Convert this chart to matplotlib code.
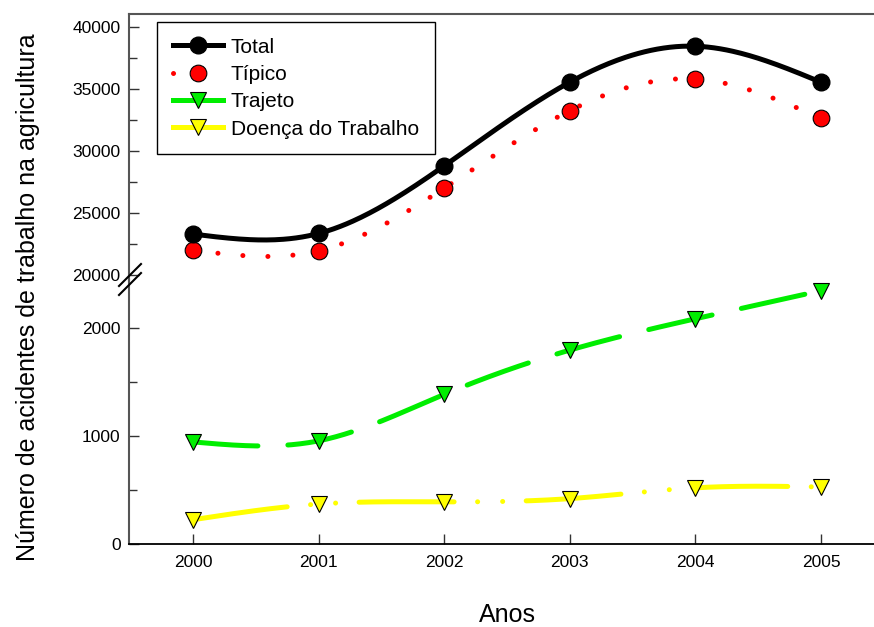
import numpy as np
import matplotlib
matplotlib.use('Agg')
import matplotlib.pyplot as plt
from matplotlib.ticker import MultipleLocator

plt.rcParams['font.family'] = ['Liberation Sans', 'DejaVu Sans']

# Values
years = [2000, 2001, 2002, 2003, 2004, 2005]
total = [23300, 23350, 28800, 35550, 38450, 35550]
tipico = [22000, 21950, 27000, 33250, 35800, 32650]
trajeto = [945, 955, 1385, 1795, 2085, 2345]
doenca = [225, 370, 390, 420, 520, 528]


def spline(x, y, n=300):
    # natural cubic spline through the points, like the original's smooth curves
    x = np.asarray(x, float)
    y = np.asarray(y, float)
    h = np.diff(x)
    k = len(x)
    A = np.zeros((k, k))
    b = np.zeros(k)
    A[0, 0] = A[-1, -1] = 1
    for i in range(1, k - 1):
        A[i, i - 1] = h[i - 1]
        A[i, i] = 2 * (h[i - 1] + h[i])
        A[i, i + 1] = h[i]
        b[i] = 6 * ((y[i + 1] - y[i]) / h[i] - (y[i] - y[i - 1]) / h[i - 1])
    M = np.linalg.solve(A, b)
    xs = np.linspace(x[0], x[-1], n)
    idx = np.clip(np.searchsorted(x, xs) - 1, 0, k - 2)
    x0, x1 = x[idx], x[idx + 1]
    hh = x1 - x0
    t0, t1 = x1 - xs, xs - x0
    ys = (M[idx] * t0**3 + M[idx + 1] * t1**3) / (6 * hh) \
        + (y[idx] / hh - M[idx] * hh / 6) * t0 \
        + (y[idx + 1] / hh - M[idx + 1] * hh / 6) * t1
    return xs, ys


fig = plt.figure(figsize=(8.74, 6.27), dpi=100)
left, width = 129 / 874, (885 - 129) / 874
ax_top = fig.add_axes([left, 1 - 280 / 627, width, (280 - 14) / 627])
ax_bot = fig.add_axes([left, 1 - 544 / 627, width, (544 - 280) / 627])

lw = 3.6
ms = 12

# Upper panel: Total and Típico
xs, ys = spline(years, tipico)
ax_top.plot(xs, ys, color='red', lw=lw, linestyle=(0, (0.01, 5)),
            dash_capstyle='round')
ax_top.plot(years, tipico, 'o', color='red', mec='black', mew=0.8, ms=ms)
xs, ys = spline(years, total)
ax_top.plot(xs, ys, color='black', lw=lw)
ax_top.plot(years, total, 'o', color='black', ms=ms)

# Lower panel: Trajeto and Doença do Trabalho
xs, ys = spline(years, trajeto)
ax_bot.plot(xs, ys, color='#00ee00', lw=lw, linestyle=(0, (13, 6)),
            dash_capstyle='round')
ax_bot.plot(years, trajeto, 'v', color='#00ee00', mec='black', mew=0.8, ms=ms)
xs, ys = spline(years, doenca)
ax_bot.plot(xs, ys, color='#ffff00', lw=lw,
            linestyle=(0, (19, 4.7, 0.01, 5, 0.01, 4.7)), dash_capstyle='round')
ax_bot.plot(years, doenca, 'v', color='#ffff00', mec='black', mew=0.8, ms=ms)

for ax in (ax_top, ax_bot):
    ax.set_xlim(1999.49, 2005.51)
    ax.spines['right'].set_visible(False)
    ax.spines['left'].set_color('#555555')
    ax.spines['left'].set_linewidth(1.5)
    ax.tick_params(direction='in', labelsize=12.5, length=7, width=1,
                   color='#333333')
    ax.tick_params(which='minor', direction='in', length=6, width=1,
                   color='#333333')
    ax.patch.set_alpha(0)

ax_top.set_ylim(19597, 41048)
ax_top.yaxis.set_major_locator(MultipleLocator(5000))
ax_top.yaxis.set_minor_locator(MultipleLocator(2500))
ax_top.spines['bottom'].set_visible(False)
ax_top.spines['top'].set_color('#555555')
ax_top.spines['top'].set_linewidth(1.5)
ax_top.tick_params(axis='x', bottom=False, labelbottom=False)
ax_top.tick_params(axis='y', pad=6)

ax_bot.set_ylim(0, 2444)
ax_bot.yaxis.set_major_locator(MultipleLocator(1000))
ax_bot.yaxis.set_minor_locator(MultipleLocator(500))
ax_bot.spines['top'].set_visible(False)
ax_bot.spines['bottom'].set_linewidth(1.3)
ax_bot.set_xticks(years)
ax_bot.set_xticklabels([str(y) for y in years])
ax_bot.tick_params(axis='x', pad=8)
ax_bot.tick_params(axis='y', pad=6)

# axis break marks
for dy in (0, 9):
    fig.add_artist(plt.Line2D([119 / 874, 141 / 874],
                              [1 - (286 + dy) / 627, 1 - (264 + dy) / 627],
                              color='black', lw=1.5))

# legend
handles = [
    plt.Line2D([], [], color='black', lw=lw, marker='o', ms=ms),
    plt.Line2D([], [], color='red', lw=lw, linestyle=(0, (0.01, 5)),
               dash_capstyle='round', marker='o', ms=ms, mec='black', mew=0.8),
    plt.Line2D([], [], color='#00ee00', lw=lw, marker='v', ms=ms,
               mec='black', mew=0.8),
    plt.Line2D([], [], color='#ffff00', lw=lw, marker='v', ms=ms,
               mec='black', mew=0.8),
]
leg = ax_top.legend(handles, ['Total', 'Típico', 'Trajeto', 'Doença do Trabalho'],
                    loc='upper left', bbox_to_anchor=(0.037, 0.97),
                    fontsize=15, frameon=True, fancybox=False, framealpha=1,
                    handlelength=2.4, handletextpad=0.4, labelspacing=0.4,
                    borderpad=0.75, borderaxespad=0)
leg.get_frame().set_edgecolor('black')
leg.get_frame().set_linewidth(1)

fig.text(28 / 874, 1 - 297 / 627, 'Número de acidentes de trabalho na agricultura',
         rotation=90, ha='center', va='center', fontsize=18)
fig.text(507 / 874, 1 - 615 / 627, 'Anos', ha='center', va='center', fontsize=18)

fig.savefig('out.png', dpi=100)
